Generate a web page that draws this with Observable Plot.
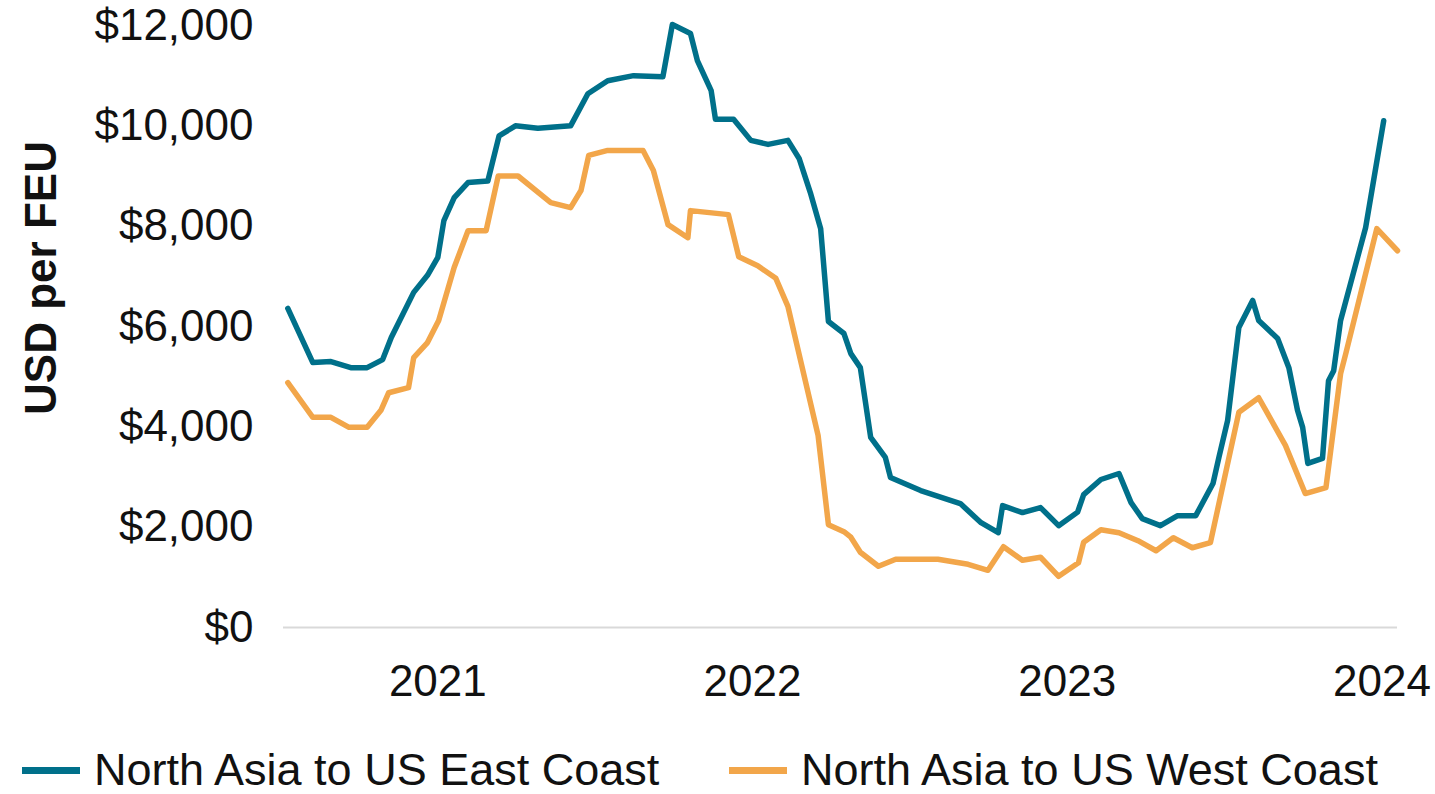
<!DOCTYPE html>
<html>
<head>
<meta charset="utf-8">
<script src="https://cdn.jsdelivr.net/npm/d3@7"></script>
<script src="https://cdn.jsdelivr.net/npm/@observablehq/plot@0.6"></script>
<style>
  html, body { margin: 0; padding: 0; background: #fff; overflow: hidden; }
  #wrap { position: relative; width: 1435px; height: 794px; overflow: hidden; font-family: "Liberation Sans", Arial, Helvetica, sans-serif; }
  #chart { position: absolute; left: 0; top: 0; }
  #legend { position: absolute; left: 0; top: 747px; width: 1435px; height: 46px; font-size: 45px; line-height: 46px; color: #111; }
  .item { position: absolute; top: 0; height: 46px; display: flex; align-items: center; white-space: nowrap; }
  .sw { display: inline-block; width: 58px; height: 7px; margin-right: 14px; }
</style>
</head>
<body>
<div id="wrap"><div id="chart"></div><div id="legend"></div></div>
<script>
const seriesNames = ["North Asia to US East Coast", "North Asia to US West Coast"];
const seriesColors = ["#00708a", "#f2a64a"];

const eastDates = [
  "2020-07-11","2020-08-09","2020-08-30","2020-09-22","2020-10-11","2020-10-29","2020-11-08","2020-12-04","2020-12-20",
  "2021-01-01","2021-01-08","2021-01-20","2021-02-05","2021-02-28","2021-03-13","2021-04-01","2021-04-27","2021-06-04",
  "2021-06-24","2021-07-17","2021-08-16","2021-09-19","2021-09-30","2021-10-21","2021-10-29","2021-11-14","2021-11-19",
  "2021-12-10","2021-12-30","2022-01-19","2022-02-11","2022-02-24","2022-03-09","2022-03-21","2022-03-30","2022-04-17",
  "2022-04-25","2022-05-06","2022-05-18","2022-06-04","2022-06-10","2022-07-15","2022-08-30","2022-09-23","2022-10-13",
  "2022-10-18","2022-11-10","2022-12-01","2022-12-22","2023-01-13","2023-01-20","2023-02-09","2023-03-02","2023-03-16",
  "2023-03-29","2023-04-19","2023-05-09","2023-05-30","2023-06-19","2023-06-26","2023-07-06","2023-07-19","2023-08-04",
  "2023-08-11","2023-09-02","2023-09-15","2023-09-25","2023-10-01","2023-10-07","2023-10-24","2023-10-31","2023-11-06",
  "2023-11-14","2023-12-13","2024-01-03"
];
const eastValues = [
  6360,5280,5300,5180,5180,5340,5780,6680,7020,
  7380,8110,8570,8870,8900,9800,10000,9950,10000,
  10640,10900,11000,10980,12020,11840,11300,10700,10130,
  10130,9710,9630,9710,9350,8670,7950,6100,5860,
  5460,5180,3790,3390,2990,2730,2470,2090,1890,
  2430,2290,2390,2030,2300,2650,2950,3070,2490,
  2170,2030,2230,2230,2870,3400,4130,5980,6520,
  6120,5760,5180,4330,3990,3270,3370,4920,5120,
  6120,7970,10100
];

const westDates = [
  "2020-07-11","2020-08-09","2020-08-30","2020-09-20","2020-10-11","2020-10-27","2020-11-05","2020-11-28","2020-12-04",
  "2020-12-20","2021-01-02","2021-01-20","2021-02-05","2021-02-26","2021-03-12","2021-04-04","2021-05-12","2021-06-04",
  "2021-06-16","2021-06-25","2021-07-17","2021-08-27","2021-09-08","2021-09-25","2021-10-18","2021-10-21","2021-12-04",
  "2021-12-16","2022-01-07","2022-01-28","2022-02-11","2022-03-18","2022-03-30","2022-04-17","2022-04-25","2022-05-06",
  "2022-05-27","2022-06-16","2022-08-04","2022-09-08","2022-10-01","2022-10-19","2022-11-10","2022-12-01","2022-12-22",
  "2023-01-14","2023-01-20","2023-02-09","2023-03-02","2023-03-24","2023-04-14","2023-05-04","2023-05-26","2023-06-16",
  "2023-07-19","2023-08-11","2023-09-11","2023-10-04","2023-10-28","2023-11-14","2023-11-20","2023-12-26","2024-01-19"
];
const westValues = [
  4880,4190,4190,3990,3990,4330,4680,4780,5380,
  5680,6120,7180,7910,7910,9000,9000,8470,8370,
  8710,9410,9510,9510,9110,8030,7770,8310,8230,
  7390,7210,6960,6400,3830,2050,1910,1800,1500,
  1220,1360,1360,1260,1140,1610,1340,1400,1020,
  1290,1700,1950,1890,1730,1530,1790,1590,1690,
  4290,4580,3630,2670,2790,5060,5460,7950,7510
];

const yTicks = [0, 2000, 4000, 6000, 8000, 10000, 12000];
const xTickYears = ["2021-01-01", "2022-01-01", "2023-01-01", "2024-01-01"];
const xDomain = ["2020-07-06", "2024-01-19"];

const parse = d3.utcParse("%Y-%m-%d");
const rows = [
  ...eastDates.map((d, i) => ({date: parse(d), value: eastValues[i], series: seriesNames[0]})),
  ...westDates.map((d, i) => ({date: parse(d), value: westValues[i], series: seriesNames[1]}))
];

const fmt = d3.format(",");
const font = '"Liberation Sans", Arial, Helvetica, sans-serif';

const chart = Plot.plot({
  width: 1435,
  height: 720,
  marginTop: 25,
  marginBottom: 93,
  marginLeft: 283,
  marginRight: 38,
  style: {fontSize: "44px", fontFamily: font, color: "#111", background: "#fff", overflow: "visible"},
  x: {type: "utc", domain: xDomain.map(parse)},
  y: {domain: [0, 12000]},
  color: {domain: seriesNames, range: seriesColors},
  marks: [
    Plot.ruleY([0], {stroke: "#d9d9d9", strokeWidth: 2}),
    Plot.axisY({ticks: yTicks, tickSize: 0, tickPadding: 30, tickFormat: d => "$" + fmt(d), label: null}),
    Plot.axisX({ticks: xTickYears.map(parse), tickSize: 0, tickPadding: 37, tickFormat: d3.utcFormat("%Y"), label: null}),
    Plot.line(rows, {x: "date", y: "value", z: "series", stroke: "series", strokeWidth: 5.5})
  ]
});
document.getElementById("chart").appendChild(chart);

d3.select(chart).append("text")
  .attr("transform", "translate(40,278) rotate(-90)")
  .attr("text-anchor", "middle")
  .attr("dominant-baseline", "central")
  .attr("font-size", 44)
  .attr("font-weight", "bold")
  .attr("font-family", font)
  .attr("fill", "#111")
  .text("USD per FEU");

const legendPos = [22, 729];
const legend = document.getElementById("legend");
seriesNames.forEach((name, i) => {
  const item = document.createElement("div");
  item.className = "item";
  item.style.left = legendPos[i] + "px";
  const sw = document.createElement("span");
  sw.className = "sw";
  sw.style.background = seriesColors[i];
  const label = document.createElement("span");
  label.textContent = name;
  item.appendChild(sw);
  item.appendChild(label);
  legend.appendChild(item);
});
</script>
</body>
</html>
